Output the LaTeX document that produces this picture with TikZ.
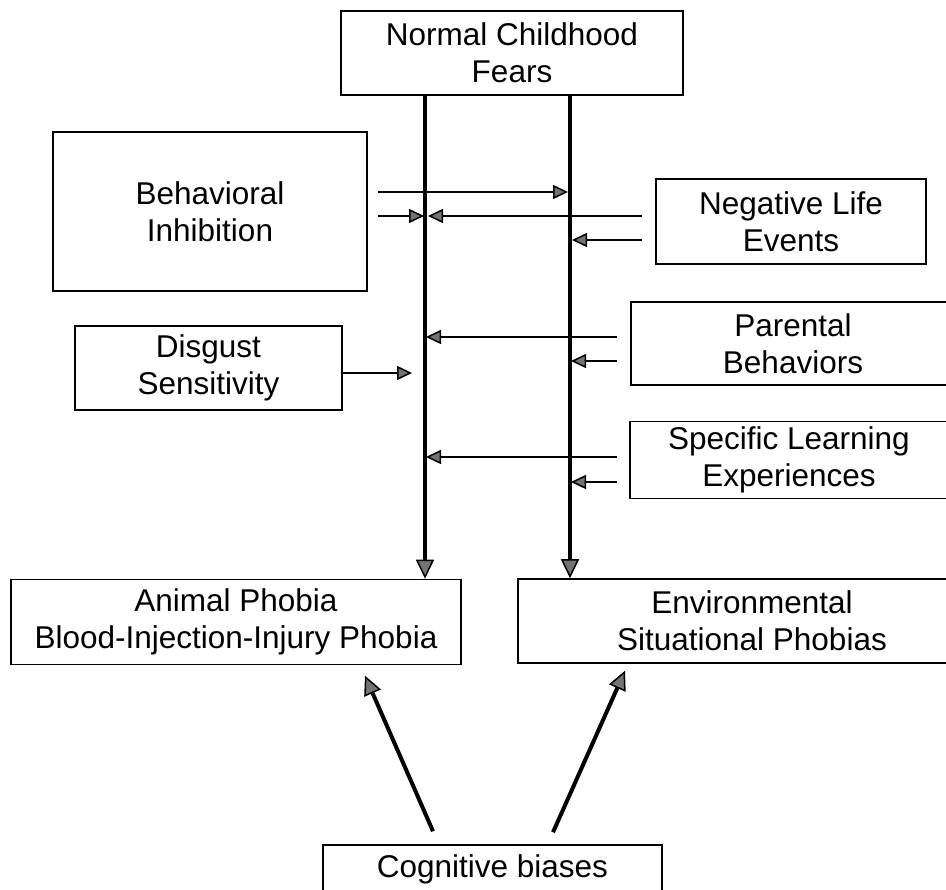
\documentclass[tikz,border=0pt]{standalone}
\usepackage{fontspec}
\setmainfont{Liberation Sans}
\usetikzlibrary{arrows.meta,positioning,calc}

\begin{document}
\begin{tikzpicture}[
x=1pt, y=-1pt,
box/.style={draw, line width=1.5pt, align=center, inner sep=0pt, font=\fontsize{31.5}{37}\selectfont},
feed/.style={-{Triangle[length=15pt, width=14pt, fill=black!55, line width=1.5pt]}, line width=1.6pt},
route/.style={-{Triangle[length=19pt, width=18pt, fill=black!55, line width=1.5pt]}, line width=4pt}
]

\clip (0,0) rectangle (946,890);

% --- Start ---
\node[box, minimum width=342pt, minimum height=84pt] (fears) at (512,53) {Normal Childhood\\Fears};

% --- Left factors ---
\node[box, minimum width=314pt, minimum height=159pt] (behav) at (210,211.5) {Behavioral\\Inhibition};
\node[box, minimum width=267pt, minimum height=84pt] (disgust) at (208.5,368) {Disgust\\Sensitivity};

% --- Right factors ---
\node[box, minimum width=270pt, minimum height=85pt] (negative) at (791,221.5) {Negative Life\\Events};
\node[box, minimum width=324pt, minimum height=83pt] (parental) at (793,343.5) {Parental\\Behaviors};
\node[box, minimum width=318pt, minimum height=77pt] (learning) at (789,460) {Specific Learning\\Experiences};

% --- Outcomes ---
\node[box, minimum width=450pt, minimum height=85pt] (animal) at (236,622) {Animal Phobia\\Blood-Injection-Injury Phobia};
\node[box, minimum width=468pt, minimum height=84pt] (environ) at (752,621) {Environmental\\Situational Phobias};
\node[box, minimum width=339pt, minimum height=48pt] (biases) at (492.5,869) {Cognitive biases};

% --- Pathways ---
\coordinate (lx) at (425,0);
\coordinate (rx) at (570,0);
\draw[route] (fears.south -| lx) -- (animal.north -| lx);
\draw[route] (fears.south -| rx) -- (environ.north -| rx);

% --- Connections ---
\draw[feed] ([xshift=10pt, yshift=19.5pt]behav.east) coordinate (b1) -- ([xshift=-2pt]b1 -| rx);
\draw[feed] ([xshift=10pt, yshift=-4.5pt]behav.east) coordinate (b2) -- ([xshift=-1pt]b2 -| lx);

\draw[feed] ([xshift=-13pt, yshift=5.5pt]negative.west) coordinate (n1) -- ([xshift=3pt]n1 -| lx);
\draw[feed] ([xshift=-13pt, yshift=-18.5pt]negative.west) coordinate (n2) -- ([xshift=2pt]n2 -| rx);

\draw[feed] ([yshift=-5pt]disgust.east) coordinate (d1) -- ([xshift=-13pt]d1 -| lx);

\draw[feed] ([xshift=-13pt, yshift=6.5pt]parental.west) coordinate (p1) -- ([xshift=1pt]p1 -| lx);
\draw[feed] ([xshift=-13pt, yshift=-17.5pt]parental.west) coordinate (p2) -- ([xshift=1pt]p2 -| rx);

\draw[feed] ([xshift=-12pt, yshift=3pt]learning.west) coordinate (s1) -- ([xshift=1pt]s1 -| lx);
\draw[feed] ([xshift=-12pt, yshift=-22pt]learning.west) coordinate (s2) -- ([xshift=1pt]s2 -| rx);

\draw[route] ([xshift=-59.5pt, yshift=13pt]biases.north) -- ([xshift=129pt, yshift=-10.5pt]animal.south);
\draw[route] ([xshift=60.5pt, yshift=12pt]biases.north) -- ([xshift=-127pt, yshift=-7pt]environ.south);

\end{tikzpicture}
\end{document}
